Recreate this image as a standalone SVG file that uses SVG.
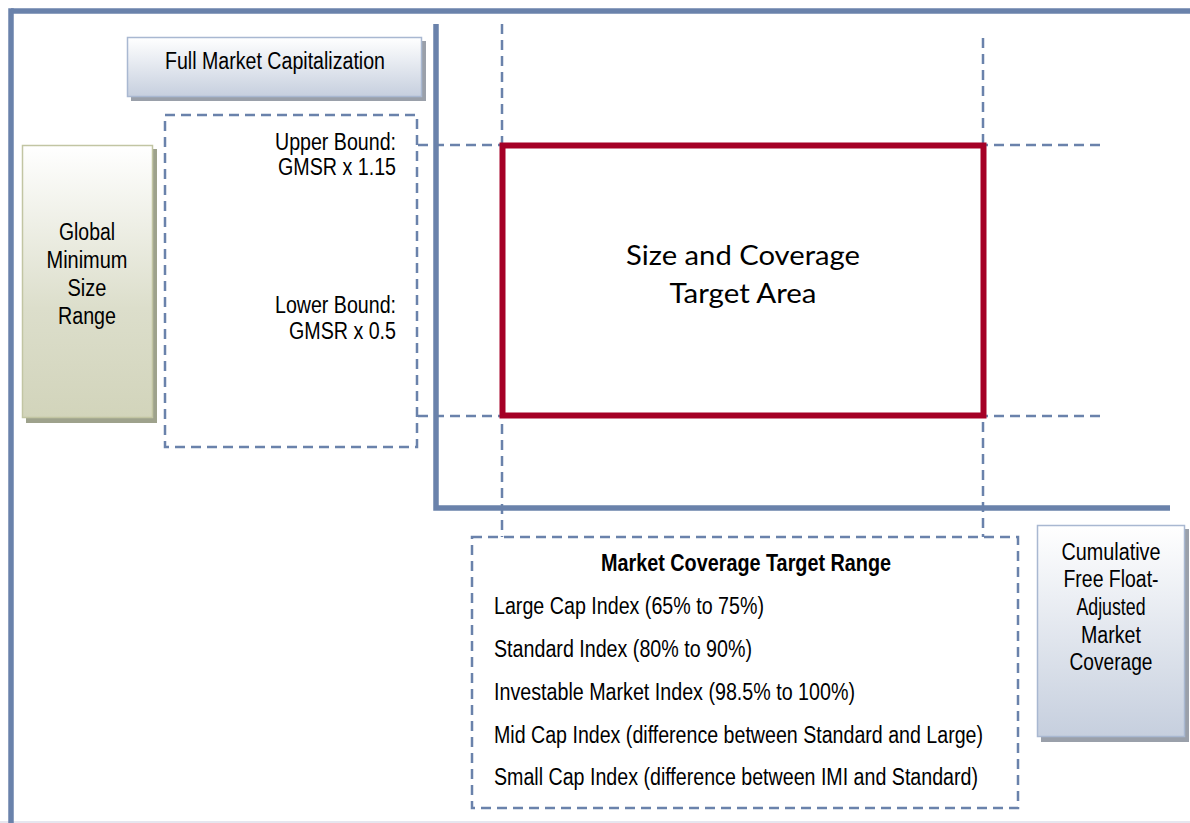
<svg xmlns="http://www.w3.org/2000/svg" width="1190" height="823" viewBox="0 0 1190 823">
<defs>
<linearGradient id="gBlue" x1="0" y1="0" x2="0" y2="1">
<stop offset="0" stop-color="#ffffff"/><stop offset="1" stop-color="#c6cfde"/>
</linearGradient>
<linearGradient id="gOlive" x1="0" y1="0" x2="0" y2="1">
<stop offset="0" stop-color="#ffffff"/><stop offset="0.6" stop-color="#dcdecb"/><stop offset="1" stop-color="#d2d4bb"/>
</linearGradient>
<style>
.axis{stroke:#6a82ab;stroke-width:5.5;fill:none}
.dash{stroke:#6a82ab;stroke-width:2.5;stroke-dasharray:10 6;fill:none}
.t{font-family:"Liberation Sans Narrow","Liberation Sans",Arial,sans-serif;font-size:23px;fill:#000}
.b{font-weight:bold}
.shadow{fill:#9aa0aa}
</style>
</defs>
<rect width="1190" height="823" fill="#ffffff"/>
<line x1="0" y1="822" x2="1190" y2="822" stroke="#e6e6ef" stroke-width="2"/>
<g id="frame">
<line class="axis" x1="11" y1="11" x2="1190" y2="11"/>
<line class="axis" x1="11" y1="8.3" x2="11" y2="823"/>
</g>
<g id="connectors">
<line class="dash" x1="502" y1="24" x2="502" y2="537"/>
<line class="dash" x1="983" y1="38" x2="983" y2="537"/>
<line class="dash" x1="418" y1="145" x2="1105" y2="145"/>
<line class="dash" x1="418" y1="416" x2="1105" y2="416"/>
<path class="axis" d="M436,24 V508 H1170"/>
</g>
<g id="full-market-cap">
<rect class="shadow" x="131" y="41" width="295" height="60"/>
<rect x="127.5" y="37.5" width="294" height="59" fill="url(#gBlue)" stroke="#a9b8d1" stroke-width="1.5"/>
<text class="t" x="275" y="69" text-anchor="middle" textLength="220" lengthAdjust="spacingAndGlyphs">Full Market Capitalization</text>
</g>
<g id="global-min">
<rect x="26" y="149" width="131" height="274" fill="#9ea28c"/>
<rect x="22.5" y="145.5" width="130" height="272" fill="url(#gOlive)" stroke="#c2c5a3" stroke-width="1.5"/>
<text class="t" x="87" y="240" text-anchor="middle" textLength="56" lengthAdjust="spacingAndGlyphs">Global</text>
<text class="t" x="87" y="268" text-anchor="middle" textLength="81" lengthAdjust="spacingAndGlyphs">Minimum</text>
<text class="t" x="87" y="296" text-anchor="middle" textLength="39" lengthAdjust="spacingAndGlyphs">Size</text>
<text class="t" x="87" y="324" text-anchor="middle" textLength="58" lengthAdjust="spacingAndGlyphs">Range</text>
</g>
<g id="bounds">
<rect class="dash" x="165" y="115" width="252" height="332"/>
<text class="t" x="396" y="150" text-anchor="end" textLength="121" lengthAdjust="spacingAndGlyphs">Upper Bound:</text>
<text class="t" x="396" y="175" text-anchor="end" textLength="118" lengthAdjust="spacingAndGlyphs">GMSR x 1.15</text>
<text class="t" x="396" y="313" text-anchor="end" textLength="121" lengthAdjust="spacingAndGlyphs">Lower Bound:</text>
<text class="t" x="396" y="339" text-anchor="end" textLength="107" lengthAdjust="spacingAndGlyphs">GMSR x 0.5</text>
</g>
<g id="target-area">
<rect x="502.5" y="145.5" width="481" height="270" fill="none" stroke="#a50026" stroke-width="6"/>
<text x="743" y="265" text-anchor="middle" font-family="Lato,'Open Sans',sans-serif" font-size="27" fill="#000" textLength="234" lengthAdjust="spacingAndGlyphs">Size and Coverage</text>
<text x="743" y="303" text-anchor="middle" font-family="Lato,'Open Sans',sans-serif" font-size="27" fill="#000" textLength="147" lengthAdjust="spacingAndGlyphs">Target Area</text>
</g>
<g id="coverage-range">
<rect class="dash" x="472" y="537" width="546" height="271"/>
<text class="t b" x="746" y="571" text-anchor="middle" textLength="290" lengthAdjust="spacingAndGlyphs">Market Coverage Target Range</text>
<text class="t" x="494" y="614" textLength="270" lengthAdjust="spacingAndGlyphs">Large Cap Index (65% to 75%)</text>
<text class="t" x="494" y="657" textLength="258" lengthAdjust="spacingAndGlyphs">Standard Index (80% to 90%)</text>
<text class="t" x="494" y="700" textLength="361" lengthAdjust="spacingAndGlyphs">Investable Market Index (98.5% to 100%)</text>
<text class="t" x="494" y="743" textLength="489" lengthAdjust="spacingAndGlyphs">Mid Cap Index (difference between Standard and Large)</text>
<text class="t" x="494" y="785" textLength="484" lengthAdjust="spacingAndGlyphs">Small Cap Index (difference between IMI and Standard)</text>
</g>
<g id="cumulative">
<rect class="shadow" x="1041" y="529" width="148" height="213"/>
<rect x="1037.5" y="525.5" width="147" height="211" fill="url(#gBlue)" stroke="#a9b8d1" stroke-width="1.5"/>
<text class="t" x="1111" y="560" text-anchor="middle" textLength="99" lengthAdjust="spacingAndGlyphs">Cumulative</text>
<text class="t" x="1111" y="587" text-anchor="middle" textLength="95" lengthAdjust="spacingAndGlyphs">Free Float-</text>
<text class="t" x="1111" y="615" text-anchor="middle" textLength="69" lengthAdjust="spacingAndGlyphs">Adjusted</text>
<text class="t" x="1111" y="643" text-anchor="middle" textLength="60" lengthAdjust="spacingAndGlyphs">Market</text>
<text class="t" x="1111" y="670" text-anchor="middle" textLength="83" lengthAdjust="spacingAndGlyphs">Coverage</text>
</g>
</svg>
